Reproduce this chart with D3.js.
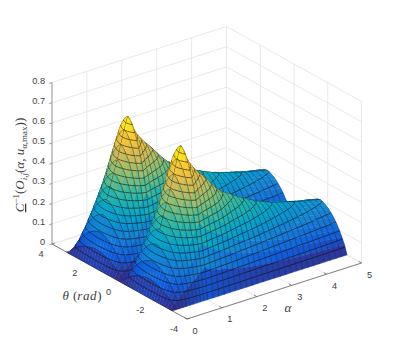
<!DOCTYPE html>
<html lang="en">
<head>
<meta charset="UTF-8">
<title>Surface</title>
<script src="https://d3js.org/d3.v7.min.js"></script>
<style>
  html, body { margin: 0; padding: 0; background: #fff; }
  svg { display: block; }
  text { font-family: "Liberation Sans", Arial, sans-serif; fill: #404040; }
  .tex { font-family: "Liberation Serif", serif; }
</style>
</head>
<body>
<svg id="chart" width="399" height="360"></svg>
<script>
// values
const alphaValues = [0, .1, .2, .3, .4, .5, .6, .7, .8, .9, 1, 1.16, 1.32, 1.48, 1.64, 1.8, 1.96, 2.12, 2.28, 2.44, 2.6, 2.76, 2.92, 3.08, 3.24, 3.4, 3.56, 3.72, 3.88, 4.04, 4.2, 4.36, 4.52, 4.68, 4.84, 5];
const alphaProfile = [0, .08, .16, .24, .31, .37, .43, .49, .56, .63, .69, .615, .57, .535, .505, .47, .435, .405, .385, .368, .35, .333, .317, .303, .29, .278, .267, .257, .25, .242, .234, .226, .219, .213, .207, .2];
// one hump of theta, -pi to 0 in 20 steps, the second hump is the same
const humpProfile = [0, .22, .38, .52, .64, .74, .82, .89, .94, .98, 1, .98, .94, .89, .82, .74, .64, .52, .38, .22, 0];
const zTicks = [0, .1, .2, .3, .4, .5, .6, .7, .8];
const alphaTicks = [0, 1, 2, 3, 4, 5];
const thetaTicks = [-4, -2, 0, 2, 4];
const parulaStops = ["#352a87", "#0f5cdd", "#1481d6", "#06a4ca", "#2eb7a4", "#87bf77", "#d1bb59", "#fec832", "#f9fb0e"];
const contourStep = 0.033;

const thetaProfile = humpProfile.concat(humpProfile.slice(1));
const thetaIndex = d3.scaleLinear().domain([0, thetaProfile.length - 1]).range([-Math.PI, Math.PI]);

// the 3d box is an oblique projection, one scale per screen direction
const xA = d3.scaleLinear().domain([0, 5]).range([0, 174.5]);
const yA = d3.scaleLinear().domain([0, 5]).range([0, -56]);
const xT = d3.scaleLinear().domain([-4, 4]).range([0, -135]);
const yT = d3.scaleLinear().domain([-4, 4]).range([0, -75]);
const yZ = d3.scaleLinear().domain([0, .8]).range([0, -161.5]);
const px = (a, t) => 187 + xA(a) + xT(t);
const py = (a, t, z) => 319 + yA(a) + yT(t) + yZ(z);
const pt = (a, t, z) => [px(a, t), py(a, t, z)];

const color = d3.scaleSequential(d3.piecewise(d3.interpolateRgb, parulaStops)).domain([0, .69]);

const svg = d3.select("#chart");
const line = d3.line();

// walls and floor grid
const grid = svg.append("g").attr("fill", "none").attr("stroke", "#e9e9e9").attr("stroke-width", 1);
const addGrid = pts => grid.append("path").attr("d", line(pts));
zTicks.forEach(z => {
  addGrid([pt(0, 4, z), pt(5, 4, z), pt(5, -4, z)]);
});
alphaTicks.forEach(a => {
  addGrid([pt(a, -4, 0), pt(a, 4, 0), pt(a, 4, .8)]);
});
thetaTicks.forEach(t => {
  addGrid([pt(0, t, 0), pt(5, t, 0), pt(5, t, .8)]);
});

// axes
const axes = svg.append("g").attr("fill", "none").attr("stroke", "#555").attr("stroke-width", .7);
axes.append("path").attr("d", line([pt(0, 4, 0), pt(0, 4, .8)])).attr("stroke", "#aaa").attr("stroke-width", 1.2);
axes.append("path").attr("d", line([pt(0, 4, 0), pt(0, -4, 0)]));
axes.append("path").attr("d", line([pt(0, -4, 0), pt(5, -4, 0)]));
zTicks.forEach(z => axes.append("path").attr("d", line([pt(0, 4, z), pt(-.08, 4, z)])).attr("stroke", "#777"));
thetaTicks.forEach(t => axes.append("path").attr("d", line([pt(0, t, 0), pt(.08, t, 0)])));
alphaTicks.forEach(a => axes.append("path").attr("d", line([pt(a, -4, 0), pt(a, -3.84, 0)])));

// surface, painted from the far corner to the near one
const surface = svg.append("g");
const levels = d3.range(contourStep, .7, contourStep);

function contourSegments(c) {
  const segs = [];
  levels.forEach(lv => {
    const hits = [];
    for (let k = 0; k < 4; k++) {
      const p = c[k], q = c[(k + 1) % 4];
      if ((p[2] < lv) !== (q[2] < lv)) {
        const s = (lv - p[2]) / (q[2] - p[2]);
        hits.push(pt(p[0] + s * (q[0] - p[0]), p[1] + s * (q[1] - p[1]), lv));
      }
    }
    for (let k = 0; k + 1 < hits.length; k += 2) segs.push([hits[k], hits[k + 1]]);
  });
  return segs;
}

for (let i = alphaValues.length - 2; i >= 0; i--) {
  for (let j = thetaProfile.length - 2; j >= 0; j--) {
    const a0 = alphaValues[i], a1 = alphaValues[i + 1];
    const t0 = thetaIndex(j), t1 = thetaIndex(j + 1);
    const z = (ii, jj) => alphaProfile[ii] * thetaProfile[jj];
    const c = [[a0, t0, z(i, j)], [a1, t0, z(i + 1, j)], [a1, t1, z(i + 1, j + 1)], [a0, t1, z(i, j + 1)]];
    const mean = d3.mean(c, d => d[2]);
    const fill = color(mean);
    surface.append("path")
      .attr("d", line(c.map(d => pt(d[0], d[1], d[2]))) + "Z")
      .attr("fill", fill).attr("stroke", fill).attr("stroke-width", .4);
    // constant alpha lines
    surface.append("path")
      .attr("d", line([pt(a0, t0, c[0][2]), pt(a0, t1, c[3][2])]))
      .attr("fill", "none").attr("stroke", "#111").attr("stroke-opacity", .6).attr("stroke-width", .5);
    surface.append("path")
      .attr("d", line([pt(a1, t0, c[1][2]), pt(a1, t1, c[2][2])]))
      .attr("fill", "none").attr("stroke", "#111").attr("stroke-opacity", .6).attr("stroke-width", .5);
    contourSegments(c).forEach(s => {
      surface.append("path").attr("d", line(s))
        .attr("fill", "none").attr("stroke", "#0a0a0a").attr("stroke-opacity", .85).attr("stroke-width", .7);
    });
    // the ridge reads as a dark outline
    if ((j === 10 || j === 30) && a0 >= .4) {
      surface.append("path").attr("d", line([pt(a0, t0, c[0][2]), pt(a1, t0, c[1][2])]))
        .attr("fill", "none").attr("stroke", "#111").attr("stroke-width", .8);
    }
  }
}

// tick labels
const labels = svg.append("g").attr("font-size", 9.2).attr("text-anchor", "middle");
zTicks.forEach(z => {
  labels.append("text").attr("x", 45).attr("y", py(0, 4, z) + 1).attr("text-anchor", "end").text(z === 0 ? "0" : z);
});
thetaTicks.forEach(t => {
  labels.append("text").attr("x", px(0, t) - (t < 0 ? 13 : 11)).attr("y", py(0, t, 0) + 13).text(t);
});
alphaTicks.forEach(a => {
  labels.append("text").attr("x", px(a, -4) + 8).attr("y", py(a, -4, 0) + 14.5).text(a);
});

// axis titles
svg.append("text").attr("class", "tex").attr("x", 288).attr("y", 312).attr("text-anchor", "middle")
  .attr("font-size", 13).attr("font-style", "italic").text("α");

const thetaLabel = svg.append("text").attr("class", "tex").attr("x", 82).attr("y", 300).attr("text-anchor", "middle").attr("font-size", 13);
thetaLabel.append("tspan").attr("font-style", "italic").text("θ");
thetaLabel.append("tspan").attr("dx", 4).text("(");
thetaLabel.append("tspan").attr("font-style", "italic").attr("letter-spacing", .6).text("rad");
thetaLabel.append("tspan").text(")");

const zLabel = svg.append("text").attr("class", "tex")
  .attr("transform", "translate(24,165) rotate(-90)").attr("text-anchor", "middle").attr("font-size", 13);
zLabel.append("tspan").attr("font-style", "italic").attr("text-decoration", "underline").text("C");
zLabel.append("tspan").attr("font-size", 9).attr("dy", -5).text("−1");
zLabel.append("tspan").attr("dy", 5).text("(");
zLabel.append("tspan").attr("font-style", "italic").text("O");
zLabel.append("tspan").attr("font-size", 9).attr("font-style", "italic").attr("dy", 2.5).text("i,j");
zLabel.append("tspan").attr("dy", -2.5).text("(");
zLabel.append("tspan").attr("font-style", "italic").text("α");
zLabel.append("tspan").text(", ");
zLabel.append("tspan").attr("font-style", "italic").text("u");
zLabel.append("tspan").attr("font-size", 9).attr("dy", 2.5).text("α,max");
zLabel.append("tspan").attr("dy", -2.5).text("))");
</script>
</body>
</html>
